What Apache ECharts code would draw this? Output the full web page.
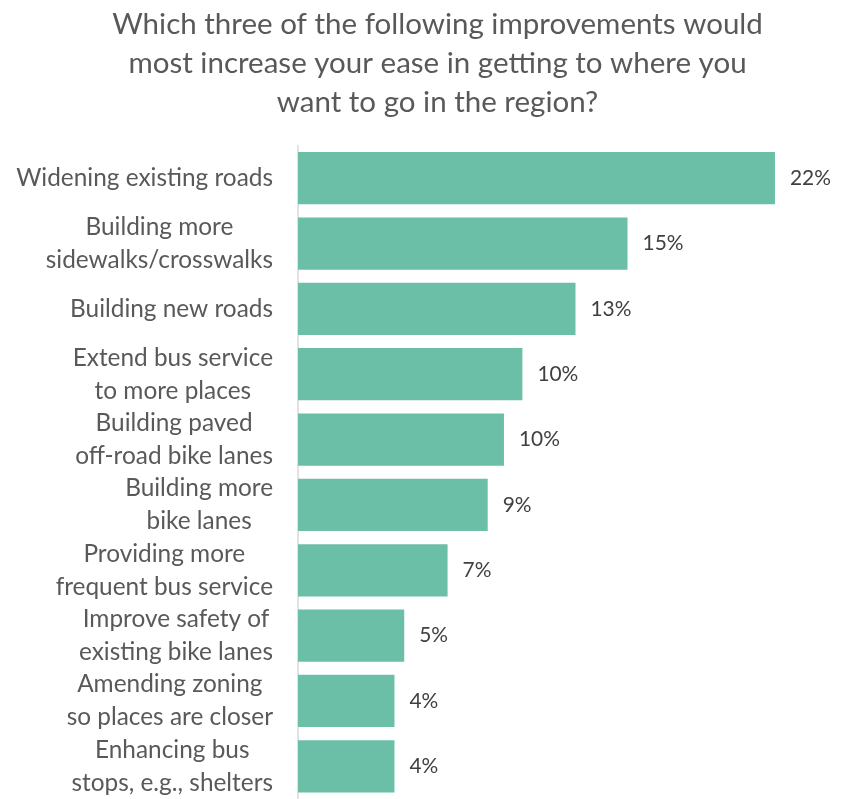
<!DOCTYPE html>
<html><head><meta charset="utf-8">
<script src="https://cdn.jsdelivr.net/npm/echarts@6/dist/echarts.min.js"></script>
<style>html,body{margin:0;padding:0;background:#fff}#c{width:851px;height:799px}</style>
</head><body><div id="c"></div>
<script>
const titleText = 'Which three of the following improvements would\nmost increase your ease in getting to where you\nwant to go in the region?';
const categories = [
  'Widening existing roads',
  'Building more\nsidewalks/crosswalks',
  'Building new roads',
  'Extend bus service\nto more places',
  'Building paved\noff-road bike lanes',
  'Building more\nbike lanes',
  'Providing more\nfrequent bus service',
  'Improve safety of\nexisting bike lanes',
  'Amending zoning\nso places are closer',
  'Enhancing bus\nstops, e.g., shelters'
];
const values = [22.0, 15.2, 12.8, 10.35, 9.5, 8.75, 6.9, 4.9, 4.45, 4.45];

const FAMILY = 'Lato, "Open Sans", sans-serif';
function fit(text, target) {
  const ctx = document.createElement('canvas').getContext('2d');
  ctx.font = '100px Lato';
  return 100 * target / ctx.measureText(text).width;
}
const titleSize = fit('Which three of the following improvements would', 651);
const catSize = fit('Widening existing roads', 257);
const valSize = fit('22%', 41);

const chart = echarts.init(document.getElementById('c'), null, {renderer: 'canvas'});
chart.setOption({
  animation: false,
  backgroundColor: '#ffffff',
  title: {
    text: titleText,
    left: 432.5,
    textAlign: 'center',
    top: 0,
    textStyle: {fontFamily: FAMILY, fontWeight: 'normal', fontSize: titleSize, lineHeight: 39, color: '#595959'}
  },
  grid: {left: 298, top: 145.5, height: 656.7, width: 542, containLabel: false},
  xAxis: {type: 'value', min: 0, max: 25, show: false},
  yAxis: {
    type: 'category',
    data: categories,
    inverse: true,
    axisTick: {show: false},
    axisLine: {show: true, lineStyle: {color: '#D9D9D9', width: 1.5}},
    axisLabel: {
      margin: 25,
      formatter: v => v.split('\n').map(l => '{c|' + l + '}').join('\n'),
      rich: {c: {align: 'center', fontFamily: FAMILY, fontSize: catSize, lineHeight: 33, color: '#595959'}}
    }
  },
  series: [{
    type: 'bar',
    data: values,
    barCategoryGap: '20%',
    itemStyle: {color: '#6BBFA7'},
    label: {
      show: true,
      position: 'right',
      distance: 15,
      formatter: p => Math.round(p.value) + '%',
      fontFamily: FAMILY,
      fontSize: valSize,
      color: '#404040'
    }
  }]
});
</script>
</body></html>
